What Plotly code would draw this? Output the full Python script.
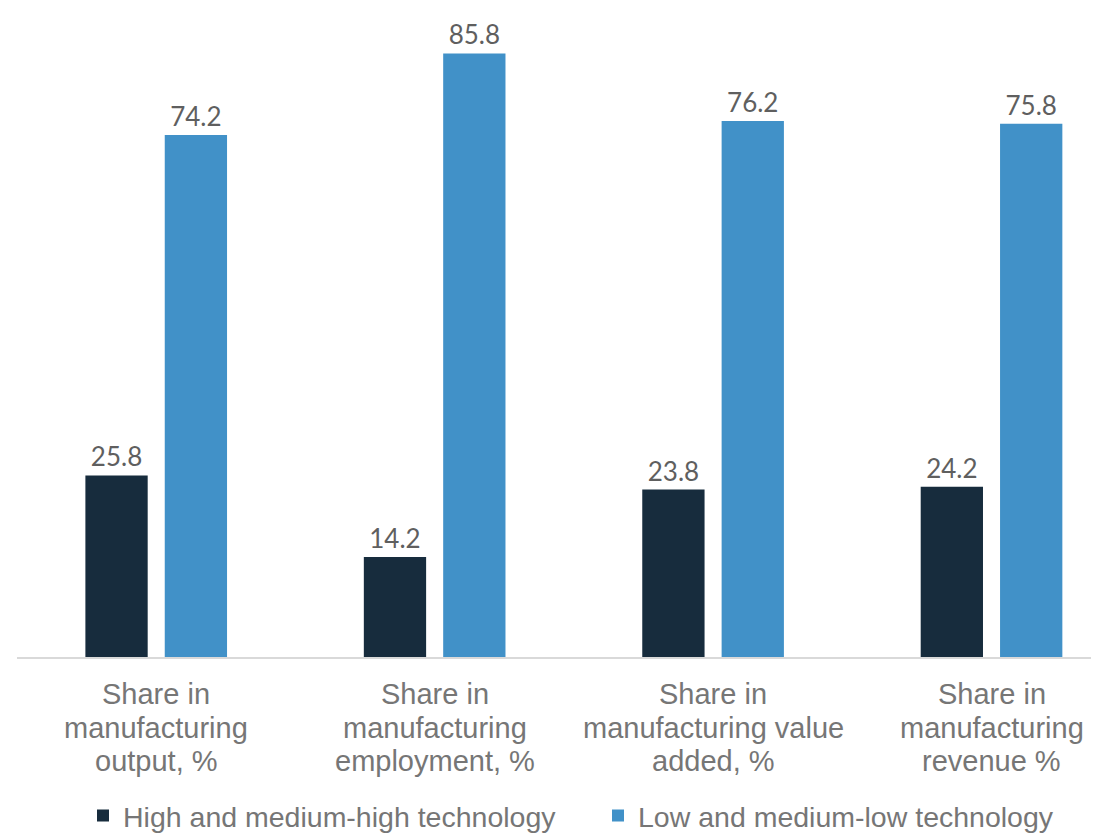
import plotly.graph_objects as go

categories = ["Share in<br>manufacturing<br>output, %",
              "Share in<br>manufacturing<br>employment, %",
              "Share in<br>manufacturing value<br>added, %",
              "Share in<br>manufacturing<br>revenue %"]
series_names = ["High and medium-high technology", "Low and medium-low technology"]
high_tech = [25.8, 14.2, 23.8, 24.2]
low_tech = [74.2, 85.8, 76.2, 75.8]
colors = ["#172C3D", "#4191C8"]

x_idx = list(range(len(categories)))

fig = go.Figure()
for name, vals, col in zip(series_names, [high_tech, low_tech], colors):
    fig.add_trace(go.Bar(
        x=x_idx, y=vals, name=name, marker=dict(color=col, line=dict(width=0)),
        text=[f"{v:.1f}" for v in vals], textposition="outside",
        textfont=dict(family="Lato", size=26, color="#5F5F5F"),
        cliponaxis=False,
    ))

# category labels, one annotation per line for Excel-like line spacing
line_shifts = [-37, -70.5, -104]
for i, cat in enumerate(categories):
    for j, line in enumerate(cat.split("<br>")):
        fig.add_annotation(x=i, y=0, xref="x", yref="paper", text=line,
                           showarrow=False, yanchor="middle", xanchor="center",
                           yshift=line_shifts[j],
                           font=dict(family="Liberation Sans, Arial", size=29, color="#767676"))

fig.update_layout(
    width=1091, height=826,
    margin=dict(l=9, r=0, t=0, b=177, autoexpand=False),
    plot_bgcolor="white", paper_bgcolor="white",
    barmode="group", bargap=0.43, bargroupgap=0.215,
    showlegend=True,
    legend=dict(orientation="h", x=0.061, xanchor="left", y=-0.245, yanchor="middle",
                font=dict(family="Liberation Sans, Arial", size=28.5, color="#767676"),
                entrywidth=470, entrywidthmode="pixels", traceorder="normal",
                bgcolor="rgba(0,0,0,0)"),
    xaxis=dict(range=[-0.5, 3.386], showticklabels=False, showgrid=False,
               showline=True, linecolor="#D9D9D9", linewidth=2, ticks="", zeroline=False),
    yaxis=dict(range=[0, 92.25], showticklabels=False, showgrid=False, zeroline=False,
               showline=False, ticks=""),
)

fig.write_html("out.html")
